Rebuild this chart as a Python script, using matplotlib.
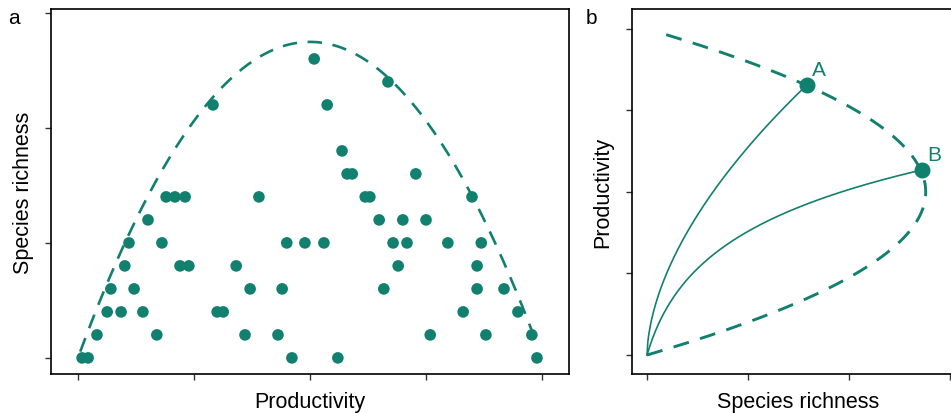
import numpy as np
import matplotlib
matplotlib.use("Agg")
import matplotlib.pyplot as plt

plt.rcParams["font.family"] = ["Liberation Sans", "DejaVu Sans"]

TEAL = "#12806F"

# panel a: observed richness against productivity (productivity on a 0-100 scale)
richness_0 = [0.9, 2.2, 46.1, 56.0, 98.9]
richness_1 = [4.1, 17.0, 36.0, 43.1, 75.9, 87.9, 97.8]
richness_2 = [6.3, 9.3, 14.0, 30.0, 31.3, 83.0, 94.8]
richness_3 = [7.1, 12.1, 37.1, 44.0, 65.9, 86.0, 91.8]
richness_4 = [10.1, 22.0, 23.9, 34.1, 69.0, 86.0]
richness_5 = [11.0, 18.1, 45.0, 48.9, 53.0, 67.9, 70.9, 79.7, 86.9]
richness_6 = [15.1, 64.9, 70.0, 75.0]
richness_7 = [19.0, 20.9, 23.1, 39.0, 61.9, 62.9, 84.9]
richness_8 = [58.0, 59.1, 72.8]
richness_9 = [56.9]
richness_11 = [29.1, 53.7]
richness_12 = [66.8]
richness_13 = [50.9]

productivity_by_richness = {
    0: richness_0, 1: richness_1, 2: richness_2, 3: richness_3,
    4: richness_4, 5: richness_5, 6: richness_6, 7: richness_7,
    8: richness_8, 9: richness_9, 11: richness_11, 12: richness_12,
    13: richness_13,
}

# upper envelope of panel a (hump-shaped)
env_a_peak_prod = 50.0
env_a_peak_rich = 13.74
env_a_range = (0.5, 98.9)

# panel b: end points of the two trajectories (richness, productivity)
point_A = (1.58, 3.31)
point_B = (2.72, 2.27)
curve_A_exponent = 0.57
curve_B_scale = 0.2
# envelope of panel b: richness peak and productivity span
env_b_peak_rich = 2.76
env_b_peak_prod = 2.0
env_b_prod_end = 3.93

fig = plt.figure(figsize=(9.51, 4.14), dpi=100)
ax1 = fig.add_axes([51 / 951, 39 / 414, 518 / 951, 365 / 414])
ax2 = fig.add_axes([632 / 951, 39 / 414, 333 / 951, 365 / 414])

# ---- panel a
xp = np.linspace(*env_a_range, 200)
yp = env_a_peak_rich * (1 - ((xp - env_a_peak_prod) / env_a_peak_prod) ** 2)
ax1.plot(xp, yp, color=TEAL, lw=1.9, ls=(0, (5.5, 4)))

xs, ys = [], []
for rich, prods in productivity_by_richness.items():
    xs += prods
    ys += [rich] * len(prods)
ax1.scatter(xs, ys, s=70, color=TEAL, edgecolors="none", zorder=3)

ax1.set_xlim(-5.8, 105.8)
ax1.set_ylim(-0.7, 15.17)
ax1.set_xticks([0, 25, 50, 75, 100])
ax1.set_yticks([0, 5, 10, 15])
ax1.set_xlabel("Productivity", fontsize=15.5, labelpad=8)
ax1.set_ylabel("Species richness", fontsize=15.5, labelpad=8)

# ---- panel b
yb = np.linspace(0, env_b_prod_end, 200)
xb = env_b_peak_rich * yb * (2 * env_b_peak_prod - yb) / env_b_peak_prod ** 2
ax2.plot(xb, yb, color=TEAL, lw=2.1, ls=(0, (5.5, 4)))

xa = np.linspace(0, point_A[0], 200)
ax2.plot(xa, point_A[1] * (xa / point_A[0]) ** curve_A_exponent, color=TEAL, lw=1.2)
xB = np.linspace(0, point_B[0], 200)
ax2.plot(xB, point_B[1] * np.log1p(xB / curve_B_scale) / np.log1p(point_B[0] / curve_B_scale),
         color=TEAL, lw=1.2)

for pt, name, off in [(point_A, "A", (0.05, 0.08)), (point_B, "B", (0.06, 0.07))]:
    ax2.plot(*pt, "o", ms=10.5, color=TEAL, zorder=4)
    ax2.text(pt[0] + off[0], pt[1] + off[1], name, color=TEAL, fontsize=15,
             ha="left", va="bottom")

ax2.set_xlim(-0.149, 3.149)
ax2.set_ylim(-0.233, 4.245)
ax2.set_xticks([0, 1, 2, 3])
ax2.set_yticks([0, 1, 2, 3, 4])
ax2.set_xlabel("Species richness", fontsize=15.5, labelpad=8)
ax2.set_ylabel("Productivity", fontsize=15.5, labelpad=9)

for ax in (ax1, ax2):
    ax.tick_params(length=4.5, width=1, color="#333333", labelbottom=False, labelleft=False)
    for sp in ax.spines.values():
        sp.set_linewidth(1.2)

fig.text(14 / 951, 1 - 18 / 414, "a", fontsize=15, va="center", ha="center")
fig.text(591 / 951, 1 - 18 / 414, "b", fontsize=15, va="center", ha="center")

fig.savefig("out.png", dpi=100)
